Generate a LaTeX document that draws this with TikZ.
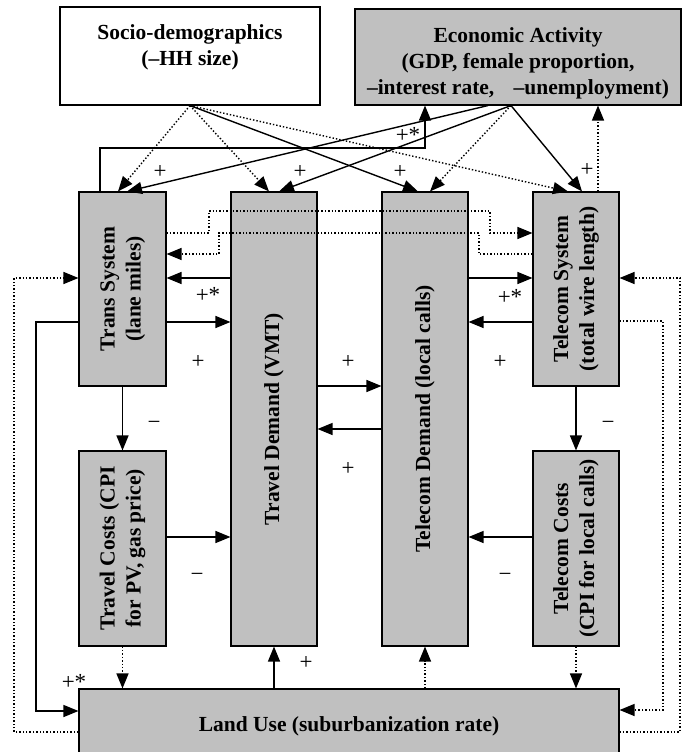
\documentclass[tikz,border=0pt]{standalone}
\usepackage{fontspec}
\setmainfont{Liberation Serif}
\usetikzlibrary{arrows.meta, positioning}
\definecolor{boxgray}{RGB}{192,192,192}
\newcommand{\rotlabel}[1]{\rotatebox{90}{\begin{tabular}{@{}c@{}}#1\end{tabular}}}

\tikzset{
  blockbox/.style={draw, line width=1.1pt, fill=boxgray, inner sep=0pt, align=center,
    font=\fontsize{21.5}{26}\selectfont\bfseries},
  whitebox/.style={blockbox, fill=white},
  arr/.style={-{Triangle[length=15pt,width=12pt]}, line width=1.4pt},
  dotarr/.style={arr, dotted},
  sign/.style={inner sep=0pt, font=\fontsize{23}{26}\selectfont}
}

\begin{document}
\begin{tikzpicture}[x=1pt, y=-1pt]
    \useasboundingbox (0,0) rectangle (681,752);

    % Hai hộp phía trên
    \node[whitebox, minimum width=260, minimum height=98] (socio) at (190,56)
        {\rule{0pt}{26pt}Socio-demographics\\(–HH size)\\\strut};
    \node[blockbox, minimum width=326, minimum height=96] (econ) at (518,57)
        {\rule{0pt}{27pt}Economic Activity\\(GDP, female proportion,\\–interest rate,\hspace{0.9em}–unemployment)};

    % Các hộp dọc
    \node[blockbox, minimum width=87, minimum height=194] (trans) at (122.5,289)
        {\rotlabel{Trans System\\(lane miles)}};
    \node[blockbox, minimum width=86, minimum height=454] (travel) at (274,419)
        {\rotlabel{Travel Demand (VMT)}};
    \node[blockbox, minimum width=86, minimum height=454] (tcdem) at (425,419)
        {\rotlabel{Telecom Demand (local calls)}};
    \node[blockbox, minimum width=86, minimum height=194] (tcsys) at (576,289)
        {\rotlabel{Telecom System\\(total wire length)}};
    \node[blockbox, minimum width=87, minimum height=195] (tvcost) at (122.5,548.5)
        {\rotlabel{Travel Costs (CPI\\for PV, gas price)}};
    \node[blockbox, minimum width=86, minimum height=195] (tccost) at (576,548.5)
        {\rotlabel{Telecom Costs\\(CPI for local calls)}};

    % Hộp dưới cùng
    \node[blockbox, minimum width=540, minimum height=74] (land) at (349,726)
        {Land Use (suburbanization rate)};

    % Mũi tên từ hai hộp trên xuống
    \draw[dotarr] (socio.south) -- ([xshift=-4.5]trans.north);
    \draw[dotarr] (socio.south) -- ([xshift=-5]travel.north);
    \draw[arr] (socio.south) -- ([xshift=-7]tcdem.north);
    \draw[dotarr] (socio.south) -- ([xshift=-8]tcsys.north);
    \draw[arr] ([xshift=-30]econ.south) -- ([xshift=4.5]trans.north);
    \draw[arr] ([xshift=-7]econ.south) -- ([xshift=5]travel.north);
    \draw[dotarr] ([xshift=-7]econ.south) -- ([xshift=5]tcdem.north);
    \draw[arr] ([xshift=-7]econ.south) -- ([xshift=6]tcsys.north);

    % Phản hồi lên Economic Activity
    \coordinate (fb) at (425,148);
    \draw[arr] ([xshift=-22.5]trans.north) |- (fb) -- (fb |- econ.south);
    \coordinate (ts) at ([xshift=22]tcsys.north);
    \draw[dotarr] (ts) -- (ts |- econ.south);

    % Đường chấm giữa hai hệ thống
    \draw[dotarr] (trans.east |- 0,233) -| (209,211) -| (490,233) -- (tcsys.west |- 0,233);
    \draw[dotarr] (tcsys.west |- 0,254) -| (479,233) -| (219,254) -- (trans.east |- 0,254);

    % Mũi tên ngang
    \draw[arr] (travel.west |- 0,278) -- (trans.east |- 0,278);
    \draw[arr] (trans.east |- 0,322) -- (travel.west |- 0,322);
    \draw[arr] (tcdem.east |- 0,278) -- (tcsys.west |- 0,278);
    \draw[arr] (tcsys.west |- 0,322) -- (tcdem.east |- 0,322);
    \draw[arr] (travel.east |- 0,386) -- (tcdem.west |- 0,386);
    \draw[arr] (tcdem.west |- 0,429) -- (travel.east |- 0,429);
    \draw[arr] (tvcost.east |- 0,537) -- (travel.west |- 0,537);
    \draw[arr] (tccost.west |- 0,537) -- (tcdem.east |- 0,537);

    % Mũi tên dọc
    \draw[arr] (trans.south) -- (tvcost.north);
    \draw[arr] (tcsys.south) -- (tccost.north);
    \draw[dotarr] (tvcost.south) -- (tvcost.south |- land.north);
    \draw[dotarr] (tccost.south) -- (tccost.south |- land.north);
    \draw[arr] (land.north -| travel.south) -- (travel.south);
    \draw[dotarr] (land.north -| tcdem.south) -- (tcdem.south);

    % Vòng ngoài
    \draw[arr] (trans.west |- 0,322) -| (36,711) -- (land.west |- 0,711);
    \draw[dotarr] (land.west |- 0,732) -| (14,278) -- (trans.west |- 0,278);
    \draw[dotarr] (tcsys.east |- 0,321) -| (663,710) -- (land.east |- 0,710);
    \draw[dotarr] (land.east |- 0,732) -| (680,278) -- (tcsys.east |- 0,278);

    % Dấu
    \foreach \x/\y/\s [count=\i] in {160/172/+, 300/172/+, 400/172/+, 587/170/+, 408/135/+*,
        208/295/+*, 198/362/+, 510/297/+*, 500/362/+, 348/362/+, 348/469/+,
        154/425/−, 197/577/−, 608/425/−, 505/577/−, 306/663/+, 74/682/+*}
        \node[sign] (sg\i) at (\x,\y) {\s};
\end{tikzpicture}
\end{document}
